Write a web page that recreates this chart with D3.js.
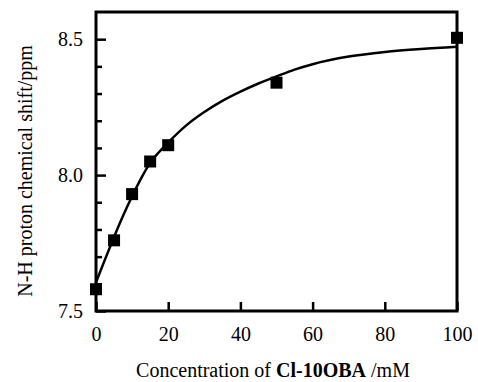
<!DOCTYPE html>
<html>
<head>
<meta charset="utf-8">
<script src="https://cdn.jsdelivr.net/npm/d3@7"></script>
<style>
  html, body { margin: 0; padding: 0; background: #fff; }
  svg { display: block; }
  svg text { font-family: "Liberation Serif", "Times New Roman", serif !important; fill: #000; }
</style>
</head>
<body>
<svg id="chart" width="478" height="382"></svg>
<script>
// ---- data ----
const concentration = [0, 5, 10, 15, 20, 50, 100];           // mM
const shift = [7.58, 7.76, 7.93, 8.05, 8.11, 8.34, 8.505];    // ppm
const fitConc = [0, 2.5, 5, 7.5, 10, 12.5, 15, 17.5, 20, 25, 30, 35, 40, 45, 50, 55, 60, 70, 80, 90, 100];
const fitShift = [7.605, 7.69, 7.772, 7.85, 7.922, 7.988, 8.045, 8.085, 8.12, 8.183, 8.232, 8.273, 8.307, 8.337, 8.363, 8.388, 8.408, 8.436, 8.453, 8.464, 8.472];
const xTicks = [0, 20, 40, 60, 80, 100];
const yTicks = [7.5, 8.0, 8.5];
const yMinorTicks = [7.6, 7.7, 7.8, 7.9, 8.1, 8.2, 8.3, 8.4];

// ---- layout ----
const svg = d3.select("#chart");
const serif = "'Liberation Serif', 'Times New Roman', serif";
const mLeft = 96, mRight = 457, mTop = 12, mBottom = 311;
const x = d3.scaleLinear().domain([0, 100]).range([mLeft, mRight]);
const y = d3.scaleLinear().domain([7.5, 8.6]).range([mBottom, mTop]);

// minor y ticks
svg.append("g")
  .attr("transform", `translate(${mLeft},0)`)
  .call(d3.axisLeft(y).tickValues(yMinorTicks).tickSize(-6).tickFormat(""))
  .call(g => g.select(".domain").remove())
  .call(g => g.selectAll("line").attr("stroke", "#000").attr("stroke-width", 2.5));

// major y ticks
svg.append("g")
  .attr("transform", `translate(${mLeft},0)`)
  .call(d3.axisLeft(y).tickValues(yTicks).tickSize(-10).tickPadding(13).tickFormat(d3.format(".1f")))
  .attr("font-family", serif).attr("font-size", 20)
  .call(g => g.select(".domain").remove())
  .call(g => g.selectAll("line").attr("stroke", "#000").attr("stroke-width", 2.5))
  .call(g => g.selectAll("text").style("font-family", serif).style("font-size", "20px"));

// x ticks
svg.append("g")
  .attr("transform", `translate(0,${mBottom})`)
  .call(d3.axisBottom(x).tickValues(xTicks).tickSize(-9).tickPadding(16).tickFormat(d3.format("d")))
  .attr("font-family", serif).attr("font-size", 20)
  .call(g => g.select(".domain").remove())
  .call(g => g.selectAll("line").attr("stroke", "#000").attr("stroke-width", 2.5))
  .call(g => g.selectAll("text").style("font-family", serif).style("font-size", "20px"));

// frame
svg.append("rect")
  .attr("x", mLeft).attr("y", mTop)
  .attr("width", mRight - mLeft).attr("height", mBottom - mTop)
  .attr("fill", "none").attr("stroke", "#000").attr("stroke-width", 3);

// fitted curve
const fitData = fitConc.map((c, i) => [c, fitShift[i]]);
svg.append("path")
  .datum(fitData)
  .attr("fill", "none").attr("stroke", "#000").attr("stroke-width", 2.5)
  .attr("d", d3.line().x(d => x(d[0])).y(d => y(d[1])).curve(d3.curveMonotoneX));

// data markers
const s = 12;
svg.append("g").selectAll("rect")
  .data(concentration.map((c, i) => [c, shift[i]]))
  .join("rect")
  .attr("x", d => x(d[0]) - s / 2).attr("y", d => y(d[1]) - s / 2)
  .attr("width", s).attr("height", s).attr("fill", "#000");

// axis titles
const xt = svg.append("text")
  .attr("x", 273).attr("y", 377)
  .attr("text-anchor", "middle").attr("font-size", 20);
xt.append("tspan").text("Concentration of ");
xt.append("tspan").attr("font-weight", "bold").text("Cl-10OBA");
xt.append("tspan").text(" /mM");

svg.append("text")
  .attr("transform", "translate(32,171) rotate(-90)")
  .attr("text-anchor", "middle").attr("font-size", 20)
  .text("N-H proton chemical shift/ppm");
</script>
</body>
</html>
